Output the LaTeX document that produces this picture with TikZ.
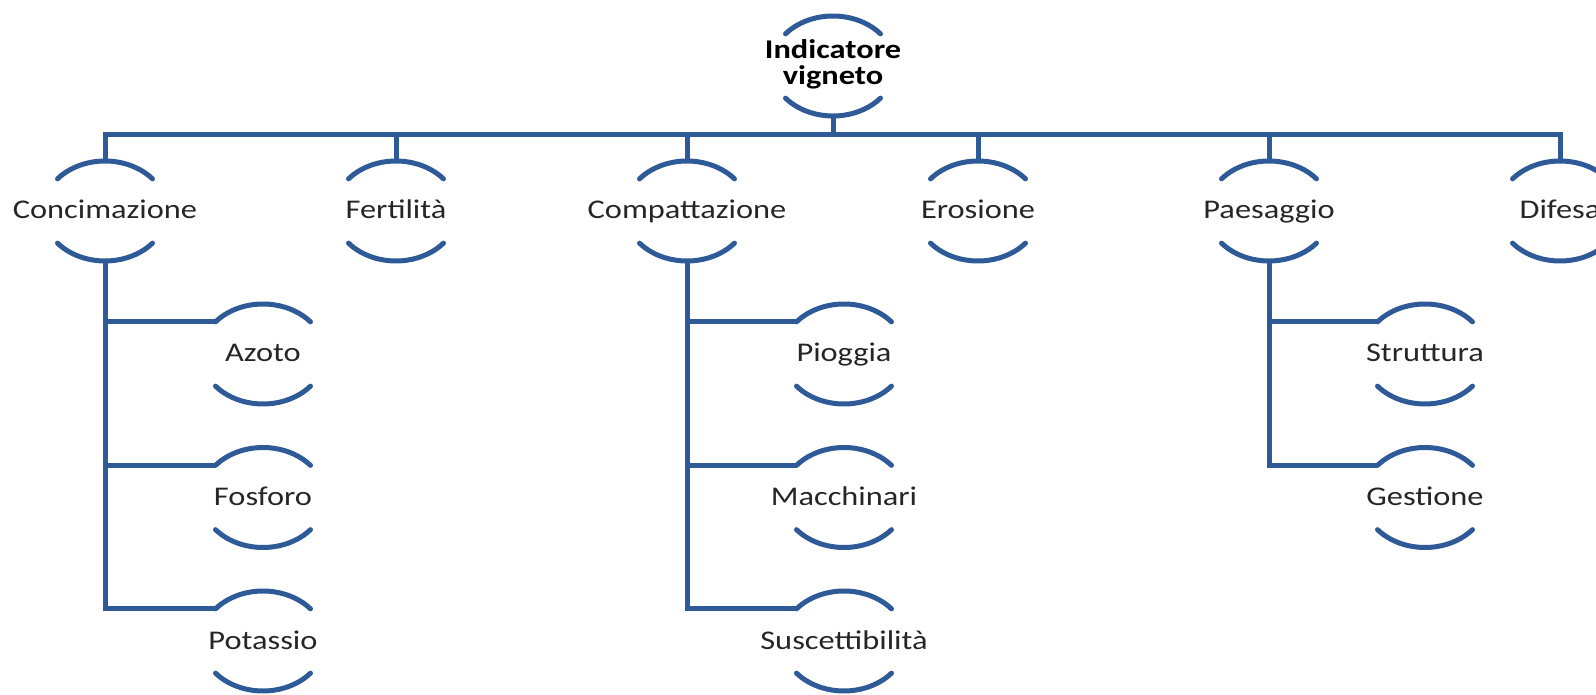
\documentclass[tikz,border=0pt]{standalone}
\usepackage{fontspec}
\setmainfont{Carlito}
\usetikzlibrary{shapes.geometric}
\definecolor{lnc}{HTML}{2E5B98}
\definecolor{txc}{HTML}{262626}
\newcommand\myarcs[1]{%
  \draw[arcline] (#1.center) ++(140:62 and 50) arc[start angle=140, end angle=40, x radius=62, y radius=50];
  \draw[arcline] (#1.center) ++(220:62 and 50) arc[start angle=220, end angle=320, x radius=62, y radius=50];
  \path (#1.center) ++(140:62 and 50) coordinate (#1-in);
}
\newcommand\mynd[4]{%
  \node[hold] (#1) at (#2,#3) {};
  \node[lbl, anchor=base] (#1-t) at ([yshift=-8pt]#1.center) {\scalebox{1.2}[1]{#4}};
  \myarcs{#1}
}
\begin{document}
\begin{tikzpicture}[x=1pt,y=1pt,
  hold/.style={shape=ellipse, minimum width=124pt, minimum height=100pt, inner sep=0pt, draw=none},
  lbl/.style={text=txc, font=\fontsize{27}{24}\selectfont, inner sep=0pt, align=center},
  arcline/.style={draw=lnc, line width=5pt, line cap=round},
  conn/.style={draw=lnc, line width=5pt}]
\useasboundingbox (0,0) rectangle (1596,694);
% root
\node[hold] (T) at (833,628) {};
\node[lbl, text=black] (T-t) at (T.center) {\scalebox{1.2}[1]{\bfseries\begin{tabular}{@{}c@{}}Indicatore\\vigneto\end{tabular}}};
\myarcs{T}
% level 1
\mynd{C}{105}{483}{Concimazione}
\mynd{F}{396}{483}{Fertilità}
\mynd{K}{687}{483}{Compattazione}
\mynd{E}{978}{483}{Erosione}
\mynd{P}{1269}{483}{Paesaggio}
\mynd{D}{1560}{483}{Difesa}
% level 2
\mynd{A1}{263}{340}{Azoto}
\mynd{A2}{263}{196.5}{Fosforo}
\mynd{A3}{263}{53}{Potassio}
\mynd{B1}{844}{340}{Pioggia}
\mynd{B2}{844}{196.5}{Macchinari}
\mynd{B3}{844}{53}{Suscettibilità}
\mynd{S1}{1425}{340}{Struttura}
\mynd{S2}{1425}{196.5}{Gestione}
% bus
\coordinate (bus) at (833,559);
\draw[conn] (T.south) -- (T.south |- bus);
\draw[conn] (C.north) |- (bus) -| (D.north);
\draw[conn] (F.north) -- (F.north |- bus);
\draw[conn] (K.north) -- (K.north |- bus);
\draw[conn] (E.north) -- (E.north |- bus);
\draw[conn] (P.north) -- (P.north |- bus);
% branches
\draw[conn] (C.south) |- (A3-in);
\draw[conn] (C.south |- A1-in) -- (A1-in);
\draw[conn] (C.south |- A2-in) -- (A2-in);
\draw[conn] (K.south) |- (B3-in);
\draw[conn] (K.south |- B1-in) -- (B1-in);
\draw[conn] (K.south |- B2-in) -- (B2-in);
\draw[conn] (P.south) |- (S2-in);
\draw[conn] (P.south |- S1-in) -- (S1-in);
\end{tikzpicture}
\end{document}
